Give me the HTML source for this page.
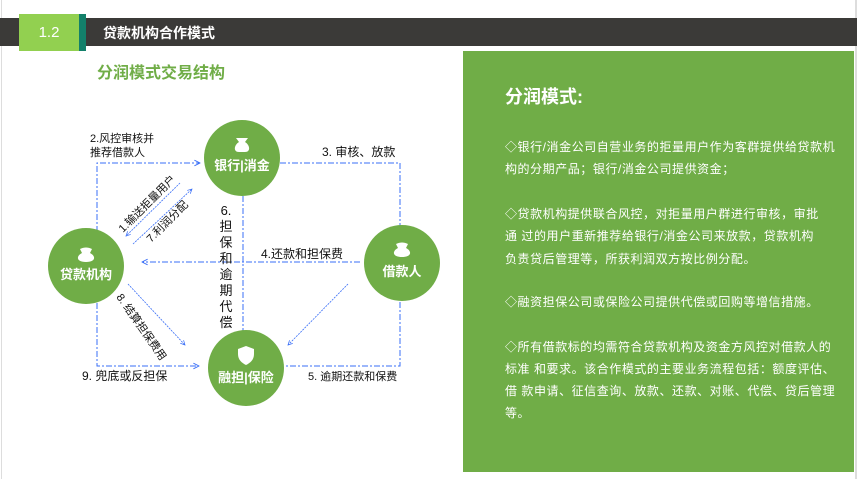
<!DOCTYPE html>
<html><head><meta charset="utf-8"><style>
body{margin:0;width:857px;height:479px;background:#fff;position:relative;overflow:hidden;font-family:"Liberation Sans","Noto Sans CJK SC",sans-serif}
.a{position:absolute;white-space:nowrap}
.p{position:absolute;left:505px;color:#fff;font-size:12px;letter-spacing:0.55px;line-height:16px;white-space:nowrap}
</style></head><body>
<div class="a" style="left:1px;top:0;width:1px;height:479px;background:#ddd"></div>
<div class="a" style="left:855px;top:0;width:2px;height:479px;background:#ddd"></div>
<div class="a" style="left:0;top:18px;width:857px;height:28px;background:#3b3a38"></div>
<div class="a" style="left:19px;top:14px;width:60px;height:37px;background:#92d050;color:#fff;font-size:15px;line-height:37px;text-align:center">1.2</div>
<div class="a" style="left:79px;top:14px;width:7px;height:37px;background:#13806a"></div>
<div class="a" style="left:103px;top:24px;color:#fff;font-size:14px;font-weight:bold;line-height:18px">贷款机构合作模式</div>
<div class="a" style="left:97px;top:64px;color:#70ad47;font-size:16px;font-weight:bold;line-height:20px">分润模式交易结构</div>

<svg class="a" style="left:0;top:0" width="460" height="479">
<defs><marker id="m" viewBox="0 0 10 10" refX="9" refY="5" markerWidth="7" markerHeight="7" orient="auto"><path d="M1 1L9 5L1 9" fill="none" stroke="#3a6ff7" stroke-width="1.3"/></marker></defs>
<g fill="none" stroke="#3a6ff7" stroke-width="1" stroke-dasharray="6 2 2 2">
<path d="M97 232V163H200" marker-end="url(#m)"/>
<path d="M280 163H400V226"/>
<path d="M360 262H142" marker-end="url(#m)"/>
<path d="M243 196V332"/>
<path d="M97 303V366H199" marker-end="url(#m)"/>
<path d="M400 302V366H284"/>
</g>
<g fill="none" stroke="#3a6ff7" stroke-width="0.8" stroke-dasharray="2 1">
<path d="M180 183L126 236" marker-end="url(#m)"/>
<path d="M133 244L192 189" marker-end="url(#m)"/>
<path d="M128 284L185 345" marker-end="url(#m)"/>
<path d="M348 284L288 345" marker-end="url(#m)"/>
</g>
<g fill="#70ad47"><circle cx="242" cy="158" r="38"/><circle cx="86" cy="266" r="38"/><circle cx="402" cy="263" r="38"/><circle cx="246" cy="368" r="38"/></g>
<g fill="#fff" font-weight="bold" font-size="13" text-anchor="middle">
<text x="242" y="170">银行|消金</text><text x="86" y="279">贷款机构</text><text x="402" y="276">借款人</text><text x="246" y="382">融担|保险</text>
<path d="M236 138h12l-3 4c5 3 6 10 0 10h-6c-6 0-5-7 0-10z"/>
<path d="M80 249c4-2 8-2 12 0l-2 4c6 3 6 9-4 9s-10-6-4-9z"/>
<path d="M396 244c4-2 8-2 12 0l-2 4c6 3 6 9-4 9s-10-6-4-9z"/>
<path d="M246 346l8 3v5c0 6-4 9-8 11c-4-2-8-5-8-11v-5z"/>
</g>
<g font-size="11" fill="#111">
<text x="90" y="142">2.风控审核并</text><text x="90" y="156">推荐借款人</text>
<text x="322" y="156" font-size="12">3. 审核、放款</text>
<text x="261" y="258" font-size="12">4.还款和担保费</text>
<text x="82" y="380" font-size="12">9. 兜底或反担保</text>
<text x="308" y="380">5. 逾期还款和保费</text>
<text transform="translate(123 233) rotate(-45)">1.输送拒量用户</text>
<text transform="translate(151 243) rotate(-45)">7.利润分配</text>
<text transform="translate(116 297) rotate(55)">8. 结算担保费用</text>
</g>
<g font-size="13" fill="#111" text-anchor="middle">
<text x="226" y="215">6.</text><text x="226" y="231">担</text><text x="226" y="247">保</text><text x="226" y="263">和</text><text x="226" y="279">逾</text><text x="226" y="295">期</text><text x="226" y="311">代</text><text x="226" y="327">偿</text>
</g>
</svg>

<div class="a" style="left:463px;top:51px;width:391px;height:421px;background:#70ad47"></div>
<div class="a" style="left:505px;top:86px;color:#fff;font-size:18px;font-weight:bold;line-height:22px">分润模式:</div>
<div class="p" style="top:139px">◇银行/消金公司自营业务的拒量用户作为客群提供给贷款机</div>
<div class="p" style="top:161px">构的分期产品；银行/消金公司提供资金；</div>
<div class="p" style="top:206px">◇贷款机构提供联合风控，对拒量用户群进行审核，审批</div>
<div class="p" style="top:228px">通 过的用户重新推荐给银行/消金公司来放款，贷款机构</div>
<div class="p" style="top:251px">负责贷后管理等，所获利润双方按比例分配。</div>
<div class="p" style="top:294px">◇融资担保公司或保险公司提供代偿或回购等增信措施。</div>
<div class="p" style="top:339px">◇所有借款标的均需符合贷款机构及资金方风控对借款人的</div>
<div class="p" style="top:361px">标准 和要求。该合作模式的主要业务流程包括：额度评估、</div>
<div class="p" style="top:383px">借 款申请、征信查询、放款、还款、对账、代偿、贷后管理</div>
<div class="p" style="top:405px">等。</div>
</body></html>
